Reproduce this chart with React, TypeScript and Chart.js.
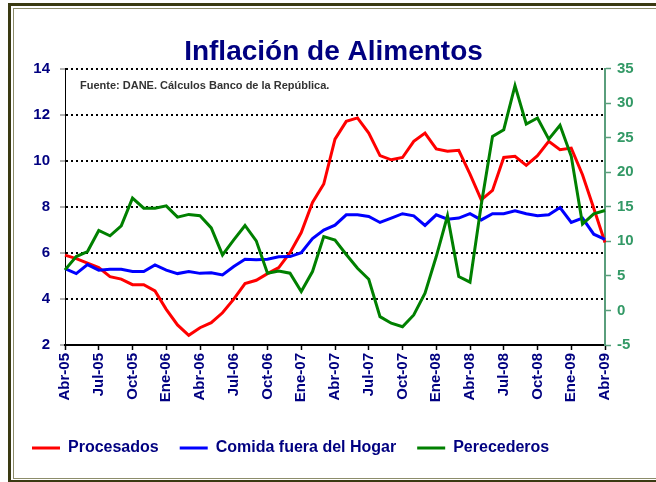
import React, { useEffect, useRef } from "react";
import { Chart, registerables } from "chart.js";

Chart.register(...registerables);

const titleText = "Inflación de Alimentos";
const sourceNote = "Fuente: DANE. Cálculos Banco de la República.";

const months = [
  "Abr-05", "May-05", "Jun-05", "Jul-05", "Ago-05", "Sep-05", "Oct-05", "Nov-05", "Dic-05",
  "Ene-06", "Feb-06", "Mar-06", "Abr-06", "May-06", "Jun-06", "Jul-06", "Ago-06", "Sep-06", "Oct-06", "Nov-06", "Dic-06",
  "Ene-07", "Feb-07", "Mar-07", "Abr-07", "May-07", "Jun-07", "Jul-07", "Ago-07", "Sep-07", "Oct-07", "Nov-07", "Dic-07",
  "Ene-08", "Feb-08", "Mar-08", "Abr-08", "May-08", "Jun-08", "Jul-08", "Ago-08", "Sep-08", "Oct-08", "Nov-08", "Dic-08",
  "Ene-09", "Feb-09", "Mar-09", "Abr-09",
];

const seriesNames = ["Procesados", "Comida fuera del Hogar", "Perecederos"];

const procesados = [
  5.9, 5.75, 5.55, 5.36, 4.97, 4.86, 4.62, 4.62, 4.35, 3.55,
  2.87, 2.42, 2.75, 2.97, 3.4, 3.99, 4.67, 4.81, 5.1, 5.36,
  6.01, 6.88, 8.19, 8.99, 10.94, 11.71, 11.86, 11.2, 10.22, 10.04,
  10.14, 10.84, 11.2, 10.51, 10.41, 10.45, 9.42, 8.3, 8.71, 10.14,
  10.19, 9.8, 10.22, 10.84, 10.48, 10.55, 9.39, 7.94, 6.45,
];

const comidaFuera = [
  5.32, 5.1, 5.49, 5.25, 5.29, 5.29, 5.19, 5.19, 5.48, 5.25,
  5.1, 5.19, 5.11, 5.14, 5.04, 5.41, 5.72, 5.7, 5.72, 5.83,
  5.84, 6.01, 6.62, 6.99, 7.2, 7.65, 7.65, 7.58, 7.32, 7.51,
  7.7, 7.61, 7.19, 7.65, 7.46, 7.51, 7.7, 7.43, 7.7, 7.7,
  7.83, 7.7, 7.61, 7.65, 7.97, 7.32, 7.51, 6.81, 6.59,
];

const perecederos = [
  5.87, 7.8, 8.52, 11.57, 10.8, 12.25, 16.26, 14.8, 14.8, 15.14,
  13.5, 13.9, 13.7, 11.95, 8.04, 10.2, 12.3, 10.07, 5.39, 5.72,
  5.39, 2.73, 5.63, 10.7, 10.2, 8.1, 6.11, 4.52, -0.9, -1.85,
  -2.35, -0.65, 2.49, 7.8, 13.7, 4.9, 4.09, 15.3, 25.19, 26.16,
  32.54, 26.98, 27.85, 24.8, 26.8, 22.3, 12.5, 13.99, 14.47,
];

const leftMin = 2;
const leftMax = 14;
const leftStep = 2;
const rightMin = -5;
const rightMax = 35;
const rightStep = 5;

const FONT = "'Liberation Sans', Arial, Helvetica, sans-serif";
const NAVY = "#000080";
const GREEN_TEXT = "#339966";
const GREEN_AXIS = "#5a9e7c";

export default function App() {
  const ref = useRef<HTMLCanvasElement>(null);

  useEffect(() => {
    if (!ref.current) return;
    const fuente = {
      id: "fuente",
      afterDraw(chart: any) {
        const ctx = chart.ctx;
        ctx.save();
        ctx.font = `bold 11px ${FONT}`;
        ctx.fillStyle = "#333333";
        ctx.textBaseline = "middle";
        ctx.textAlign = "left";
        ctx.fillText(sourceNote, 80, 86);
        ctx.restore();
      },
    };

    const chart = new Chart(ref.current, {
      type: "line",
      data: {
        labels: months,
        datasets: [
          {
            label: seriesNames[0],
            data: procesados,
            borderColor: "#ff0000",
            backgroundColor: "#ff0000",
            borderWidth: 3,
            pointRadius: 0,
            tension: 0,
            yAxisID: "y",
            order: 3,
          },
          {
            label: seriesNames[1],
            data: comidaFuera,
            borderColor: "#0000ff",
            backgroundColor: "#0000ff",
            borderWidth: 3,
            pointRadius: 0,
            tension: 0,
            yAxisID: "y",
            order: 2,
          },
          {
            label: seriesNames[2],
            data: perecederos,
            borderColor: "#008000",
            backgroundColor: "#008000",
            borderWidth: 3,
            pointRadius: 0,
            tension: 0,
            yAxisID: "y1",
            order: 1,
          },
        ],
      },
      options: {
        responsive: false,
        animation: false,
        devicePixelRatio: 1,
        layout: { padding: { left: 11, right: 0, top: 35, bottom: 16 } },
        plugins: {
          title: {
            display: true,
            text: titleText,
            color: NAVY,
            font: { family: FONT, size: 28, weight: "bold" },
            padding: 0,
          },
          legend: {
            position: "bottom",
            align: "start",
            labels: {
              boxWidth: 28,
              boxHeight: 0,
              padding: 21,
              color: NAVY,
              font: { family: FONT, size: 16, weight: "bold" },
              sort: (a: any, b: any) => a.datasetIndex - b.datasetIndex,
            },
          },
          tooltip: { enabled: false },
        },
        scales: {
          x: {
            type: "category",
            offset: false,
            ticks: {
              autoSkip: false,
              maxRotation: 90,
              minRotation: 90,
              padding: 3,
              color: NAVY,
              font: { family: FONT, size: 15, weight: "bold" },
              callback: (_v: any, i: number) => (i % 3 === 0 ? months[i] : ""),
            },
            grid: {
              drawOnChartArea: false,
              tickLength: 5,
              tickWidth: 1.5,
              tickColor: (c: any) => (c.index % 3 === 0 ? "#000000" : "rgba(0,0,0,0)"),
            },
            border: { color: "#000000", width: 2 },
            afterFit: (s: any) => {
              s.height = 74;
            },
          },
          y: {
            position: "left",
            min: leftMin,
            max: leftMax,
            ticks: {
              stepSize: leftStep,
              color: NAVY,
              padding: 10,
              font: { family: FONT, size: 15, weight: "bold" },
            },
            grid: {
              color: "#000000",
              lineWidth: 2,
              tickColor: "#666666",
              tickLength: 5,
              tickWidth: 1,
            },
            border: { color: "#000000", width: 1, dash: [2, 3] },
            afterFit: (s: any) => {
              s.width = 54;
            },
          },
          y1: {
            position: "right",
            min: rightMin,
            max: rightMax,
            ticks: {
              stepSize: rightStep,
              color: GREEN_TEXT,
              padding: 6,
              font: { family: FONT, size: 15, weight: "bold" },
            },
            grid: {
              drawOnChartArea: false,
              tickColor: GREEN_AXIS,
              tickLength: 6,
              tickWidth: 1.5,
            },
            border: { color: GREEN_AXIS, width: 2 },
            afterFit: (s: any) => {
              s.width = 51;
            },
          },
        },
      },
      plugins: [fuente],
    } as any);

    return () => chart.destroy();
  }, []);

  return (
    <div
      style={{
        position: "fixed",
        left: 0,
        top: 0,
        width: 656,
        height: 482,
        overflow: "hidden",
        background: "#ffffff",
      }}
    >
      <div
        style={{
          position: "absolute",
          left: 8,
          top: 3,
          width: 660,
          height: 480,
          border: "3px solid #3a3a12",
          boxSizing: "border-box",
        }}
      />
      <div
        style={{
          position: "absolute",
          left: 13,
          top: 8,
          width: 660,
          height: 471,
          border: "1px solid #8c8c6a",
          boxSizing: "border-box",
        }}
      />
      <canvas
        ref={ref}
        width={656}
        height={482}
        style={{ position: "absolute", left: 0, top: 0, width: 656, height: 482 }}
      />
    </div>
  );
}
